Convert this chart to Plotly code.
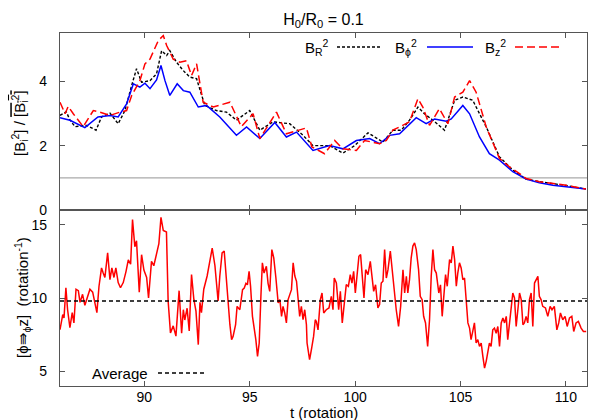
import plotly.graph_objects as go

# ---------------- data ----------------
t_R = [86.0, 86.3, 86.47, 86.71, 87.26, 87.71, 87.97, 88.37, 88.76, 89.08, 89.4, 89.63, 89.87,
       90.27, 90.58, 90.82, 91.06, 91.21, 91.53, 91.85, 92.16, 92.48, 92.87, 93.42, 93.9, 94.37,
       95.0, 95.48, 96.11, 96.9, 97.53, 98.0, 98.79, 99.42, 99.98, 100.61, 101.32, 101.79, 102.19,
       102.58, 102.98, 103.29, 103.69, 104.24, 104.72, 105.11, 105.58, 106.22, 106.85, 107.48,
       108.11, 108.74, 110.01, 110.95]
B_R = [2.94, 3.05, 2.8, 2.59, 2.63, 2.48, 2.89, 3.01, 2.68, 3.09, 3.87, 4.39, 3.97,
       4.02, 4.23, 4.95, 4.8, 4.95, 4.59, 4.33, 4.13, 4.08, 3.25, 3.09, 3.04, 2.79,
       3.09, 2.48, 2.74, 2.68, 2.32, 2.0, 2.0, 1.77, 2.0, 2.4, 2.11, 2.48, 2.48,
       2.79, 3.2, 2.99, 2.79, 2.48, 3.41, 3.51, 3.41, 2.58, 1.65, 1.24,
       0.96, 0.88, 0.76, 0.65]

t_phi = [86.0, 86.47, 87.18, 87.8, 88.37, 88.76, 89.16, 89.48, 89.79, 90.03, 90.27, 90.58, 90.79,
         90.98, 91.21, 91.56, 91.85, 92.16, 92.56, 92.95, 93.58, 94.37, 94.85, 95.48, 96.19, 96.74,
         97.22, 97.6, 98.0, 98.79, 99.42, 100.06, 100.69, 101.16, 101.64, 102.11, 102.9, 103.37,
         103.77, 104.32, 104.56, 105.11, 105.43, 105.9, 106.37, 106.85, 107.48, 108.11, 108.74,
         109.38, 110.01, 110.95]
B_phi = [2.87, 2.79, 2.56, 2.89, 2.94, 2.89, 3.3, 3.92, 3.82, 3.94, 3.77, 4.04, 4.49,
         4.02, 3.56, 3.92, 3.71, 3.66, 3.2, 3.25, 2.89, 2.32, 2.58, 2.22, 2.72, 2.27,
         2.42, 2.15, 1.85, 2.0, 1.9, 2.16, 2.22, 2.06, 2.32, 2.37, 2.87, 2.68,
         2.83, 2.76, 2.83, 3.25, 2.99, 2.27, 1.75, 1.55, 1.19, 0.96, 0.85,
         0.77, 0.72, 0.65]

t_z = [86.0, 86.24, 86.39, 86.63, 87.1, 87.58, 87.9, 88.37, 88.84, 89.16, 89.4, 89.79, 90.03,
       90.27, 90.66, 90.9, 91.06, 91.37, 91.69, 92.0, 92.24, 92.48, 92.79, 93.27, 94.06, 94.6,
       95.16, 95.48, 96.27, 96.74, 97.69, 97.95, 98.55, 99.03, 99.42, 100.06, 100.45, 101.16,
       101.48, 101.79, 102.11, 102.58, 102.98, 103.21, 103.53, 104.0, 104.4, 104.72, 105.11,
       105.43, 105.74, 106.22, 106.85, 107.32, 107.8, 108.11, 108.74, 109.38, 110.01, 110.95]
B_z = [3.35, 2.99, 3.22, 2.99, 2.59, 3.09, 3.04, 2.94, 3.04, 3.09, 3.56, 4.02, 4.54,
       4.69, 5.26, 5.42, 5.11, 4.69, 4.59, 4.64, 4.18, 4.54, 3.35, 3.2, 3.35, 2.59,
       2.99, 2.22, 3.04, 2.37, 2.55, 1.96, 1.75, 2.16, 1.9, 1.85, 2.16, 2.06,
       2.16, 2.48, 2.58, 2.74, 3.46, 3.2, 2.63, 3.15, 2.68, 3.51, 3.66,
       4.02, 3.66, 2.58, 1.6, 1.34, 1.13, 0.98, 0.88, 0.83, 0.77, 0.65]

t_rate = [86.0, 86.13, 86.19, 86.28, 86.36, 86.47, 86.58, 86.66, 86.76, 86.87, 86.95, 87.07, 87.18,
          87.29, 87.42, 87.55, 87.66, 87.75, 87.85, 87.97, 88.05, 88.13, 88.26, 88.37, 88.46, 88.56,
          88.65, 88.76, 88.87, 89.0, 89.13, 89.24, 89.35, 89.44, 89.55, 89.63, 89.76, 89.87, 89.98,
          90.11, 90.2, 90.34, 90.45, 90.58, 90.69, 90.79, 90.9, 91.05, 91.13, 91.24, 91.37, 91.5,
          91.65, 91.77, 91.85, 91.92, 92.03, 92.13, 92.24, 92.35, 92.45, 92.56, 92.64, 92.71, 92.82,
          92.98, 93.11, 93.22, 93.35, 93.5, 93.58, 93.69, 93.79, 93.9, 93.98, 94.06, 94.14, 94.21,
          94.33, 94.4, 94.53, 94.66, 94.74, 94.82, 94.89, 94.97, 95.04, 95.13, 95.21, 95.29, 95.37,
          95.45, 95.53, 95.6, 95.68, 95.79, 95.87, 95.95, 96.05, 96.14, 96.24, 96.35, 96.43, 96.51,
          96.58, 96.66, 96.74, 96.82, 96.9, 96.98, 97.06, 97.14, 97.22, 97.3, 97.37, 97.45, 97.53,
          97.61, 97.69, 97.72, 97.84, 97.94, 98.03, 98.11, 98.16, 98.24, 98.35, 98.43, 98.51, 98.63,
          98.76, 98.87, 98.95, 99.01, 99.11, 99.22, 99.3, 99.39, 99.5, 99.58, 99.68, 99.77, 99.85,
          99.93, 100.01, 100.09, 100.18, 100.26, 100.34, 100.42, 100.5, 100.61, 100.72, 100.8,
          100.88, 100.97, 101.08, 101.16, 101.24, 101.32, 101.4, 101.48, 101.56, 101.67, 101.76,
          101.87, 101.95, 102.06, 102.16, 102.27, 102.35, 102.43, 102.5, 102.58, 102.66, 102.74,
          102.82, 102.9, 103.01, 103.09, 103.18, 103.25, 103.34, 103.44, 103.53, 103.61, 103.69,
          103.77, 103.85, 103.97, 104.05, 104.13, 104.21, 104.29, 104.37, 104.48, 104.56, 104.64,
          104.72, 104.8, 104.87, 104.95, 105.03, 105.11, 105.19, 105.27, 105.35, 105.43, 105.5,
          105.58, 105.66, 105.74, 105.82, 105.9, 105.98, 106.06, 106.14, 106.22, 106.3, 106.37,
          106.45, 106.53, 106.61, 106.69, 106.77, 106.85, 106.93, 107.01, 107.09, 107.17, 107.24,
          107.32, 107.4, 107.48, 107.56, 107.64, 107.72, 107.8, 107.88, 107.96, 108.03, 108.11,
          108.19, 108.27, 108.35, 108.43, 108.51, 108.59, 108.67, 108.74, 108.82, 108.9, 109.03,
          109.14, 109.25, 109.34, 109.45, 109.57, 109.66, 109.74, 109.85, 109.96, 110.06, 110.17,
          110.28, 110.37, 110.48, 110.59, 110.72, 110.83, 110.96]
rate = [7.84, 8.87, 8.64, 10.69, 9.2, 7.98, 9.0, 8.3, 10.6, 10.5, 9.7, 10.25, 9.5,
        10.0, 10.6, 10.4, 9.7, 9.0, 10.8, 12.05, 11.7, 11.4, 13.08, 11.25, 12.05, 11.4,
        12.05, 11.05, 10.7, 11.05, 11.8, 12.6, 12.3, 15.35, 13.5, 13.9, 10.4, 12.95, 11.9,
        11.4, 10.0, 12.5, 12.2, 12.95, 13.7, 15.5, 14.6, 14.5, 9.8, 7.62, 8.1, 7.4,
        10.5, 7.6, 9.2, 8.5, 9.3, 7.75, 11.6, 9.9, 9.1, 6.82, 9.7, 9.0, 10.6,
        11.5, 12.7, 13.4, 12.2, 9.8, 11.48, 13.08, 13.2, 11.4, 9.66, 8.18, 7.16, 7.38,
        8.18, 9.43, 9.2, 10.57, 10.68, 11.0, 10.9, 11.82, 10.8, 8.75, 8.06, 7.16, 6.02,
        6.93, 10.1, 12.4, 11.7, 12.16, 11.0, 10.45, 13.3, 12.74, 11.4, 9.66, 9.9, 8.75,
        9.43, 8.98, 8.3, 9.89, 10.23, 10.57, 12.4, 11.5, 11.14, 9.89, 8.75, 9.43, 8.52,
        9.2, 8.18, 6.93, 5.8, 6.6, 7.38, 8.52, 8.4, 7.83, 9.89, 10.34, 8.98, 9.2,
        9.32, 10.11, 9.2, 11.36, 11.02, 9.2, 10.45, 8.3, 9.89, 10.91, 10.8, 11.59, 11.02,
        11.82, 10.34, 11.48, 12.84, 12.96, 11.7, 10.0, 11.93, 11.59, 12.5, 11.48,
        10.45, 10.9, 9.32, 9.55, 11.02, 11.14, 13.3, 11.36, 11.93, 13.2, 11.93,
        9.89, 9.2, 8.06, 9.43, 11.93, 10.34, 11.48, 10.34, 11.25, 12.74, 13.54,
        13.76, 13.3, 11.93, 10.11, 9.89, 8.75, 8.3, 6.7, 8.52, 11.48, 13.3,
        11.93, 11.7, 10.34, 10.9, 8.75, 10.11, 11.59, 10.8, 12.62, 12.4, 13.54,
        12.62, 10.8, 11.7, 12.4, 12.05, 11.25, 11.36, 10.11, 8.3, 7.95, 7.16,
        7.72, 8.3, 6.93, 7.16, 6.7, 6.93, 6.02, 5.22, 5.7, 6.25, 6.93,
        6.7, 7.83, 7.95, 7.6, 8.06, 6.7, 8.3, 8.64, 8.3, 8.75, 7.16,
        8.4, 9.2, 10.34, 10.0, 8.06, 9.2, 10.34, 9.89, 8.18, 8.3, 8.75,
        8.3, 9.89, 10.34, 8.06, 11.02, 11.25, 11.48, 10.11, 9.89, 9.43, 9.32,
        8.75, 9.43, 9.2, 9.43, 7.83, 8.3, 8.98, 8.52, 8.75, 8.06, 8.64,
        8.75, 7.72, 8.3, 8.4, 7.95, 7.72, 7.72]

AVERAGE = 9.8
REF_LEVEL = 1.0
x_range = [86, 111]
x_ticks = [90, 95, 100, 105, 110]
y1_ticks = [0, 2, 4]
y2_ticks = [5, 10, 15]

# ---------------- figure ----------------
FONT = "Liberation Sans, Arial, sans-serif"
AX = "#555555"
fig = go.Figure()

fig.add_trace(go.Scatter(x=t_R, y=B_R, mode="lines", xaxis="x", yaxis="y",
                         line=dict(color="black", width=1.4, dash="3px,2px"), showlegend=False))
fig.add_trace(go.Scatter(x=t_phi, y=B_phi, mode="lines", xaxis="x", yaxis="y",
                         line=dict(color="#0000ff", width=1.5), showlegend=False))
fig.add_trace(go.Scatter(x=t_z, y=B_z, mode="lines", xaxis="x", yaxis="y",
                         line=dict(color="#ff0000", width=1.5, dash="8px,4px"), showlegend=False))
fig.add_trace(go.Scatter(x=t_rate, y=rate, mode="lines", xaxis="x2", yaxis="y2",
                         line=dict(color="#ff0000", width=1.5), showlegend=False))

split = 176 / 353
common_x = dict(range=x_range, tickvals=x_ticks, ticks="inside", ticklen=5, tickcolor=AX,
                showline=True, linecolor=AX, linewidth=1.2, mirror="allticks",
                showgrid=False, zeroline=False, tickfont=dict(size=14, color="black", family=FONT))
common_y = dict(ticks="inside", ticklen=5, tickcolor=AX, showline=True, linecolor=AX,
                linewidth=1.2, mirror="allticks", showgrid=False, zeroline=False,
                tickfont=dict(size=14, color="black", family=FONT), ticklabelstandoff=9)

fig.update_layout(
    width=599, height=420,
    margin=dict(l=60, r=12, t=33, b=34),
    paper_bgcolor="white", plot_bgcolor="white",
    font=dict(family=FONT, color="black"),
    xaxis=dict(**common_x, anchor="y", domain=[0, 1], showticklabels=False, matches="x2"),
    xaxis2=dict(**common_x, anchor="y2", domain=[0, 1], ticklabelstandoff=-2),
    yaxis=dict(**common_y, anchor="x", domain=[split, 1], range=[0, 5.5], tickvals=y1_ticks),
    yaxis2=dict(**common_y, anchor="x2", domain=[0, split], range=[4, 16], tickvals=y2_ticks),
    title=dict(text="H<sub>0</sub>/R<sub>0</sub> = 0.1", x=0.5, xref="paper",
               y=0.955, yref="container", yanchor="middle", xanchor="center",
               font=dict(size=16, family=FONT, color="black")),
)

def px(xp):
    return (xp - 60) / 527

def py(yp):
    return (386 - yp) / 353

shapes = [
    dict(type="line", xref="x domain", yref="y", x0=0, x1=1, y0=REF_LEVEL, y1=REF_LEVEL,
         line=dict(color="#aaaaaa", width=1.2), layer="below"),
    dict(type="line", xref="x2 domain", yref="y2", x0=0, x1=1, y0=AVERAGE, y1=AVERAGE,
         line=dict(color="black", width=1.4, dash="4px,3px"), layer="above"),
    # legend samples
    dict(type="line", xref="paper", yref="paper", x0=px(337), x1=px(380), y0=py(47), y1=py(47),
         line=dict(color="black", width=1.4, dash="3px,2px")),
    dict(type="line", xref="paper", yref="paper", x0=px(427), x1=px(473), y0=py(47), y1=py(47),
         line=dict(color="#0000ff", width=1.5)),
    dict(type="line", xref="paper", yref="paper", x0=px(515), x1=px(563), y0=py(47), y1=py(47),
         line=dict(color="#ff0000", width=1.5, dash="8px,4px")),
    dict(type="line", xref="paper", yref="paper", x0=px(158), x1=px(205), y0=py(373), y1=py(373),
         line=dict(color="black", width=1.4, dash="4px,3px")),
]
fig.update_layout(shapes=shapes)

ann = [
    dict(text="B<sub>R</sub><sup>2</sup>", x=px(331), y=py(47), xanchor="right", yanchor="middle"),
    dict(text="B<sub>ϕ</sub><sup>2</sup>", x=px(419), y=py(47), xanchor="right", yanchor="middle"),
    dict(text="B<sub>z</sub><sup>2</sup>", x=px(508), y=py(47), xanchor="right", yanchor="middle"),
    dict(text="Average", x=px(150), y=py(373), xanchor="right", yanchor="middle"),
    dict(text="t (rotation)", x=0.5, y=py(412), xanchor="center", yanchor="middle"),
    dict(text="[B<sub>i</sub><sup>2</sup>] / <span style='text-decoration:overline'>[B<sub>i</sub><sup>2</sup>]</span>",
         x=px(20), y=py(123), xanchor="center", yanchor="middle", textangle=-90),
    dict(text="[ϕ⇛<sub>ϕ</sub>z]  (rotation<sup>-1</sup>)",
         x=px(22), y=py(298), xanchor="center", yanchor="middle", textangle=-90),
]
for a in ann:
    a.update(xref="paper", yref="paper", showarrow=False,
             font=dict(size=15, family=FONT, color="black"))
fig.update_layout(annotations=ann)

fig.write_html("out.html", config={"displayModeBar": False},
               post_script="document.body.style.margin='0';document.body.style.overflow='hidden';")
